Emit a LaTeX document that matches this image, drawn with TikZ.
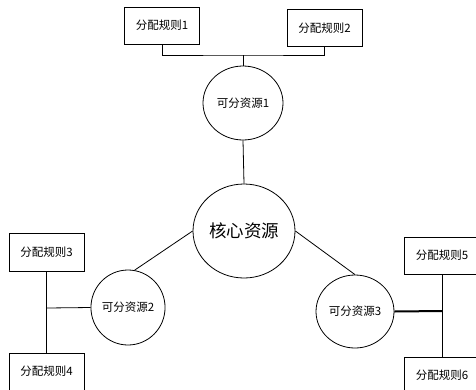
\documentclass[tikz,border=0pt]{standalone}
\usepackage{fontspec}
\newfontfamily\cjk{Noto Sans CJK SC}
\usetikzlibrary{shapes.geometric}
\begin{document}
\begin{tikzpicture}[x=1pt,y=-1pt,
  font=\cjk\fontsize{11.5}{14}\selectfont,
  line width=0.8pt,
  rulebox/.style={draw, minimum width=75pt, minimum height=37pt, inner sep=0pt},
  resnode/.style={draw, ellipse, inner sep=0pt}]
\useasboundingbox (0,0) rectangle (476,389);
\clip (0,0) rectangle (476,389);
\node[rulebox] (b1) at (162,25.5) {分配规则1};
\node[rulebox] (b2) at (324.5,28) {分配规则2};
\node[resnode, minimum width=80pt, minimum height=74pt] (r1) at (243,103) {可分资源1};
\node[resnode, minimum width=102pt, minimum height=94pt, font=\cjk\fontsize{17.5}{20}\selectfont] (core) at (244,231) {核心资源};
\node[resnode, minimum width=70pt, minimum height=75pt] (r2) at (128,307.5) {可分资源2};
\node[resnode, minimum width=78pt, minimum height=73pt] (r3) at (355,311.5) {可分资源3};
\node[rulebox, minimum height=38pt] (b3) at (46.5,252) {分配规则3};
\node[rulebox] (b4) at (46.5,371.5) {分配规则4};
\node[rulebox] (b5) at (442,255.5) {分配规则5};
\node[rulebox] (b6) at (442,375.5) {分配规则6};
\coordinate (j1) at (243,55);
\coordinate (j2) at (47,308);
\coordinate (j3) at (442,311);
\draw (b1.south) |- (j1) -| (b2.south);
\draw (j1) -- (r1.north);
\draw (r1.south) -- (core.north);
\draw (core.west) -- (r2.80);
\draw (core.east) -- (r3.north);
\draw (b3.south) -- (b4.north);
\draw (r2.west) -- (j2);
\draw (b5.south) -- (b6.north);
\draw[line width=2pt] (r3.east) -- (j3);
\end{tikzpicture}
\end{document}
